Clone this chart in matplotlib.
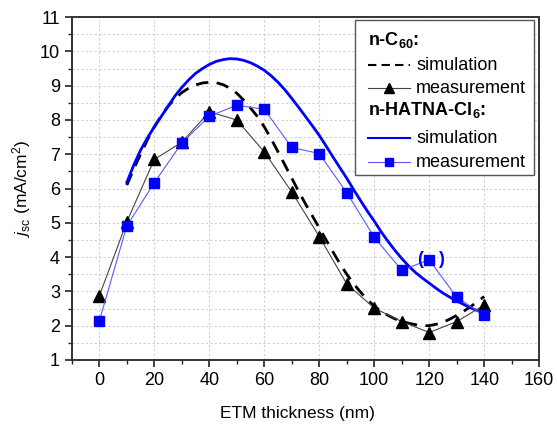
import matplotlib
matplotlib.use("Agg")
import matplotlib.pyplot as plt
from matplotlib.lines import Line2D
from matplotlib.patches import Rectangle
import numpy as np

plt.rcParams['font.family'] = ['Liberation Sans', 'DejaVu Sans']
plt.rcParams['mathtext.fontset'] = 'custom'
plt.rcParams['mathtext.rm'] = 'Liberation Sans'
plt.rcParams['mathtext.it'] = 'Liberation Sans:italic'
plt.rcParams['mathtext.bf'] = 'Liberation Sans:bold'

# measurement thickness (nm)
thk_meas = [0, 10, 20, 30, 40, 50, 60, 70, 80, 90, 100, 110, 120, 130, 140]
c60_meas = [2.87, 5.03, 6.85, 7.35, 8.24, 8.0, 7.07, 5.9, 4.6, 3.22, 2.51, 2.12, 1.8, 2.12, 2.6]
hatna_meas = [2.14, 4.91, 6.17, 7.33, 8.11, 8.43, 8.31, 7.2, 7.02, 5.88, 4.58, 3.62, 3.92, 2.83, 2.3]

# simulation thickness (nm)
thk_sim = [10, 12.5, 15, 17.5, 20, 22.5, 25, 27.5, 30, 32.5, 35, 37.5, 40, 42.5,
           45, 47.5, 50, 52.5, 55, 57.5, 60, 62.5, 65, 67.5, 70, 72.5, 75, 77.5,
           80, 82.5, 85, 87.5, 90, 92.5, 95, 97.5, 100, 102.5, 105, 107.5, 110,
           112.5, 115, 117.5, 120, 122.5, 125, 127.5, 130, 132.5, 135, 137.5, 140]
c60_sim = [6.1, 6.57, 7.0, 7.42, 7.8, 8.12, 8.4, 8.62, 8.8, 8.93, 9.02, 9.08, 9.1,
           9.09, 9.03, 8.93, 8.78, 8.58, 8.35, 8.1, 7.8, 7.45, 7.07, 6.69, 6.3,
           5.92, 5.55, 5.2, 4.85, 4.5, 4.15, 3.81, 3.5, 3.22, 2.98, 2.76, 2.57,
           2.42, 2.3, 2.2, 2.13, 2.07, 2.03, 2.0, 2.0, 2.04, 2.1, 2.19, 2.3, 2.42,
           2.55, 2.7, 2.85]
hatna_sim = [6.18, 6.68, 7.12, 7.48, 7.8, 8.1, 8.4, 8.7, 8.95, 9.17, 9.36, 9.5,
             9.62, 9.71, 9.76, 9.79, 9.78, 9.74, 9.67, 9.57, 9.45, 9.29, 9.1, 8.88,
             8.63, 8.37, 8.1, 7.83, 7.55, 7.24, 6.92, 6.61, 6.3, 5.97, 5.65, 5.34,
             5.05, 4.74, 4.46, 4.2, 3.96, 3.74, 3.55, 3.39, 3.24, 3.09, 2.95, 2.83,
             2.72, 2.62, 2.52, 2.44, 2.38]

xticks = [0, 20, 40, 60, 80, 100, 120, 140, 160]
yticks = [1, 2, 3, 4, 5, 6, 7, 8, 9, 10, 11]

FS = 13

fig = plt.figure(figsize=(5.57, 4.29), dpi=100)
ax = fig.add_axes([0.129, 0.161, 0.839, 0.799])

ax.plot(thk_sim, c60_sim, color='black', lw=2.0, ls=(0, (4.5, 3.0)), zorder=3)
ax.plot(thk_sim, hatna_sim, color='#0000ff', lw=2.0, zorder=3)
ax.plot(thk_meas, c60_meas, color='#444444', lw=0.8, marker='^', ms=8,
        mfc='black', mec='black', zorder=4)
ax.plot(thk_meas, hatna_meas, color='#5a5aff', lw=0.8, marker='s', ms=6.5,
        mfc='#0000ff', mec='#0000ff', zorder=5)

# parentheses around the questionable point
ax.text(116.6, 3.92, '(', color='#0000ff', fontsize=13, fontweight='bold',
        ha='center', va='center', zorder=6)
ax.text(124.2, 3.92, ')', color='#0000ff', fontsize=13, fontweight='bold',
        ha='center', va='center', zorder=6)

ax.set_xlim(-10, 160)
ax.set_ylim(1, 11)
ax.set_xticks(xticks)
ax.set_yticks(yticks)
ax.set_xticks(np.arange(-10, 161, 10), minor=True)
ax.set_yticks(np.arange(1, 11.01, 0.5), minor=True)
ax.tick_params(axis='both', which='major', direction='out', length=5, width=1.2,
               labelsize=FS, colors='#222222', labelcolor='black',
               top=False, right=False)
ax.tick_params(axis='both', which='minor', direction='out', length=3, width=1.0,
               colors='#222222', top=False, right=False)
ax.grid(True, which='major', axis='x', color='#d0d0d0', ls=(0, (2, 2)), lw=0.8)
ax.grid(True, which='both', axis='y', color='#d0d0d0', ls=(0, (2, 2)), lw=0.8)
ax.set_axisbelow(True)
for s in ax.spines.values():
    s.set_linewidth(1.4)
    s.set_color('#333333')

ax.set_xlabel('ETM thickness (nm)', fontsize=12.5, labelpad=12)
ax.xaxis.set_label_coords(0.482, -0.135)
ax.set_ylabel(r'$j_{\mathrm{sc}}$ (mA/cm$^2$)', fontsize=12.5, labelpad=5)

# manual legend in axes fraction coordinates
tr = ax.transAxes
box = Rectangle((0.605, 0.539), 0.384, 0.452, transform=tr, fill=True,
                facecolor='white', edgecolor='#555555', lw=1.0, zorder=7)
ax.add_patch(box)
lx0, lx1, tx = 0.634, 0.724, 0.737
rows = [0.933, 0.860, 0.793, 0.729, 0.647, 0.577]
ax.text(lx0, rows[0], r'n-C$_{\mathbf{60}}$:', transform=tr, fontsize=FS,
        fontweight='bold', va='center', ha='left', zorder=8)
ax.add_line(Line2D([lx0, lx1], [rows[1]] * 2, transform=tr, color='black', lw=1.5,
                   ls=(0, (4, 2.5)), zorder=8))
ax.text(tx, rows[1], 'simulation', transform=tr, fontsize=FS, va='center', zorder=8)
ax.add_line(Line2D([lx0, lx1], [rows[2]] * 2, transform=tr, color='#444444', lw=0.8,
                   zorder=8))
ax.add_line(Line2D([(lx0 + lx1) / 2], [rows[2]], transform=tr, marker='^', ms=7,
                   color='black', zorder=9))
ax.text(tx, rows[2], 'measurement', transform=tr, fontsize=FS, va='center', zorder=8)
ax.text(lx0, rows[3], r'n-HATNA-Cl$_{\mathbf{6}}$:', transform=tr, fontsize=FS,
        fontweight='bold', va='center', ha='left', zorder=8)
ax.add_line(Line2D([lx0, lx1], [rows[4]] * 2, transform=tr, color='#0000ff', lw=1.5,
                   zorder=8))
ax.text(tx, rows[4], 'simulation', transform=tr, fontsize=FS, va='center', zorder=8)
ax.add_line(Line2D([lx0, lx1], [rows[5]] * 2, transform=tr, color='#5a5aff', lw=0.8,
                   zorder=8))
ax.add_line(Line2D([(lx0 + lx1) / 2], [rows[5]], transform=tr, marker='s', ms=6,
                   color='#0000ff', zorder=9))
ax.text(tx, rows[5], 'measurement', transform=tr, fontsize=FS, va='center', zorder=8)

fig.savefig('out.png', dpi=100)
